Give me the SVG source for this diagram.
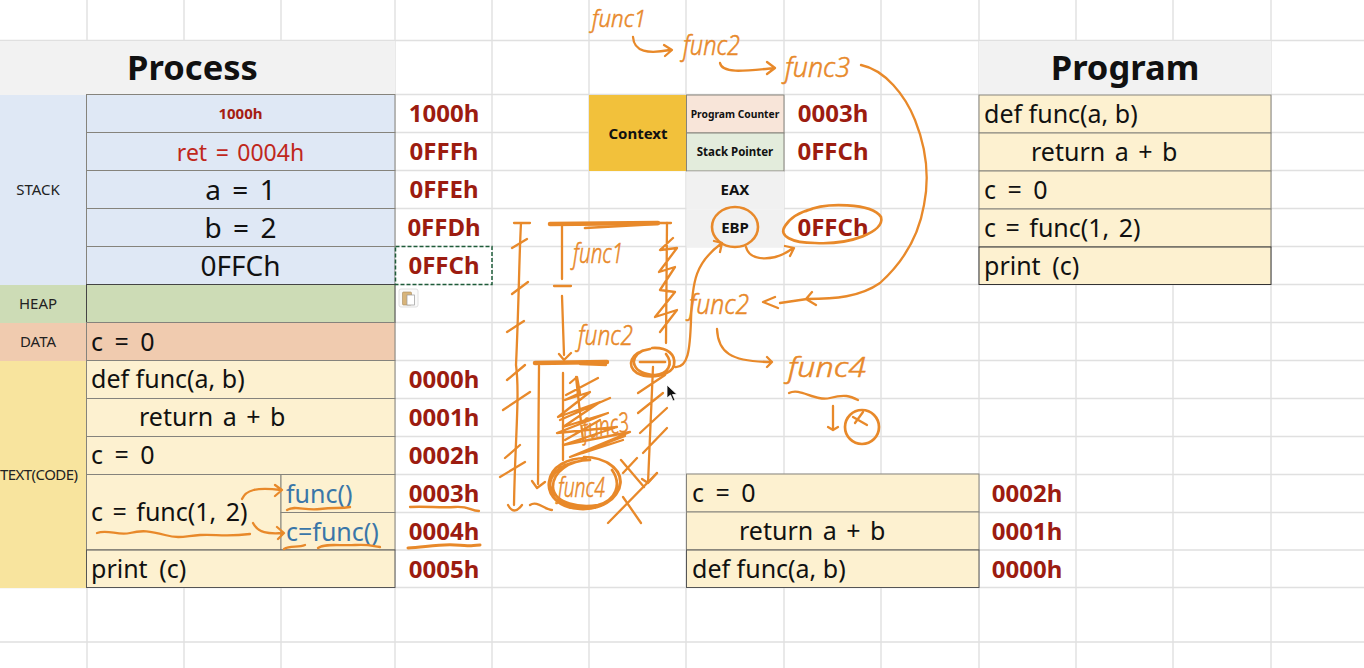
<svg xmlns="http://www.w3.org/2000/svg" width="1364" height="668" viewBox="0 0 1364 668">
<style>
text{font-family:"Noto Sans","Open Sans","Liberation Sans",sans-serif;fill:#111}
.grid{stroke:#e0e0e0;stroke-width:1.4;fill:none}
.cell{stroke:#85837c;stroke-width:1}
.title{font-size:34.500px;font-weight:700;text-anchor:middle}
.seg{font-size:15px;text-anchor:middle;fill:#222}
.code{font-size:25px;word-spacing:5px}
.w0{word-spacing:0}
.w3{word-spacing:3px}
.big{font-size:28px;text-anchor:middle;word-spacing:4px}
.addr{font-size:24px;font-weight:700;fill:#9c1c10;text-anchor:middle}
.small{font-size:11.500px;font-weight:700;text-anchor:middle}
.reg{font-size:15px;font-weight:700;text-anchor:middle}
.blue{font-size:25px;fill:#3a76a8}
.ink{fill:none;stroke:#e8892a;stroke-width:2.300;stroke-linecap:round;stroke-linejoin:round}
.thick{stroke-width:4.500}
.bold{stroke-width:2.700}
.hand{font-size:27px;font-style:italic;font-weight:300;fill:#e8892a;stroke:#e8892a;stroke-width:.5}
</style>
<rect width="1364" height="668" fill="#fff"/>
<path class="grid" d="M87 0V668M184 0V668M281 0V668M395 0V668M492 0V668M589 0V668M686 0V668M784 0V668M881 0V668M979 0V668M1076 0V668M1173 0V668M1271 0V668M0 40.500H1364M0 94.500H1364M0 132.500H1364M0 170.500H1364M0 208.500H1364M0 246.500H1364M0 284.500H1364M0 322.500H1364M0 360.500H1364M0 398.500H1364M0 436.500H1364M0 474.500H1364M0 512.500H1364M0 550H1364M0 587.500H1364M0 642H1364"/>

<g id="process-title"><rect x="0" y="41" width="395" height="54" fill="#f2f2f2"/><text class="title" x="192.500" y="80">Process</text></g>
<g id="seg-stack"><rect x="0" y="95" width="87" height="190" fill="#dfe8f5"/><text class="seg" x="38" y="195">STACK</text></g>
<g id="seg-heap"><rect x="0" y="285" width="87" height="38" fill="#cddcb6"/><text class="seg" x="38" y="309">HEAP</text></g>
<g id="seg-data"><rect x="0" y="323" width="87" height="38" fill="#f0cbaf"/><text class="seg" x="38" y="347">DATA</text></g>
<g id="seg-text"><rect x="0" y="361" width="87" height="227" fill="#f8e49e"/><text class="seg" x="39" y="480" textLength="78">TEXT(CODE)</text></g>

<g id="stack-rows">
<rect class="cell" x="86.500" y="94.500" width="308.500" height="38" fill="#dfe8f5"/><text x="240.500" y="119" text-anchor="middle" font-size="15" font-weight="700" style="fill:#a51d12">1000h</text>
<rect class="cell" x="86.500" y="132.500" width="308.500" height="38" fill="#dfe8f5"/><text x="240.500" y="161" text-anchor="middle" font-size="23" style="fill:#c0271c;word-spacing:2.500px">ret = 0004h</text>
<rect class="cell" x="86.500" y="170.500" width="308.500" height="38" fill="#dfe8f5"/><text class="big" x="240.500" y="200">a = 1</text>
<rect class="cell" x="86.500" y="208.500" width="308.500" height="38" fill="#dfe8f5"/><text class="big" x="240.500" y="238">b = 2</text>
<rect class="cell" x="86.500" y="246.500" width="308.500" height="38" fill="#dfe8f5"/><text class="big" x="240.500" y="276">0FFCh</text>
<rect class="cell" x="86.500" y="284.500" width="308.500" height="38" fill="#cddcb6" style="stroke:#444"/>
<rect class="cell" x="86.500" y="322.500" width="308.500" height="38" fill="#f0cbaf"/><text class="code" x="91" y="351">c = 0</text>
</g>
<g id="code-rows">
<rect class="cell" x="86.500" y="360.500" width="308.500" height="38" fill="#fdf1d0"/><text class="code w0" x="91" y="388">def func(a, b)</text>
<rect class="cell" x="86.500" y="398.500" width="308.500" height="38" fill="#fdf1d0"/><text class="code w3" x="139" y="426">return a + b</text>
<rect class="cell" x="86.500" y="436.500" width="308.500" height="38" fill="#fdf1d0"/><text class="code" x="91" y="464">c = 0</text>
<rect class="cell" x="86.500" y="474.500" width="194.500" height="75.500" fill="#fdf1d0"/><text class="code w3" x="91" y="521">c = func(1, 2)</text>
<rect class="cell" x="281" y="474.500" width="114" height="38" fill="#fdf1d0"/><text class="blue" x="286" y="503">func()</text>
<rect class="cell" x="281" y="512.500" width="114" height="37.500" fill="#fdf1d0"/><text class="blue" x="286" y="541">c=func()</text>
<rect class="cell" x="86.500" y="550" width="308.500" height="37.500" fill="#fdf1d0" style="stroke:#555"/><text class="code" x="91" y="578">print (c)</text>
</g>
<g id="addresses">
<text class="addr" x="444" y="122">1000h</text>
<text class="addr" x="444" y="160">0FFFh</text>
<text class="addr" x="444" y="198">0FFEh</text>
<text class="addr" x="444" y="236">0FFDh</text>
<rect x="395.500" y="246.500" width="96.500" height="38" fill="#fff" stroke="#1f5c3a" stroke-width="1.500" stroke-dasharray="4 2"/>
<text class="addr" x="444" y="274">0FFCh</text>
<text class="addr" x="444" y="388">0000h</text>
<text class="addr" x="444" y="426">0001h</text>
<text class="addr" x="444" y="464">0002h</text>
<text class="addr" x="444" y="502">0003h</text>
<text class="addr" x="444" y="540">0004h</text>
<text class="addr" x="444" y="578">0005h</text>
</g>
<g id="paste-icon">
<rect x="399" y="289" width="19" height="18" rx="2" fill="#fafafa" stroke="#e0e0e0"/>
<rect x="402.500" y="292" width="9" height="13" rx="1" fill="#d8b47a" stroke="#a88a5a" stroke-width=".6"/>
<rect x="407" y="295" width="7.500" height="10" fill="#fff" stroke="#999" stroke-width=".7"/>
</g>

<g id="context">
<rect x="589" y="95" width="97" height="76" fill="#f2c13b"/><text x="638" y="139" text-anchor="middle" font-size="15" font-weight="700">Context</text>
</g>
<g id="program-counter"><rect class="cell" x="686.500" y="95" width="97.500" height="38" fill="#f8e5d9"/><text class="small" x="735" y="118" style="font-size:10.300px">Program Counter</text><text class="addr" x="833" y="122">0003h</text></g>
<g id="stack-pointer"><rect class="cell" x="686.500" y="133" width="97.500" height="38" fill="#e3ecdc"/><text class="small" x="735" y="156">Stack Pointer</text><text class="addr" x="833" y="160">0FFCh</text></g>
<g id="eax"><rect x="686.500" y="171.500" width="97.500" height="38" fill="#f1f1f1"/><text class="reg" x="735" y="195">EAX</text></g>
<g id="ebp"><rect x="686.500" y="209.500" width="97.500" height="38" fill="#f1f1f1"/><text class="reg" x="735" y="233">EBP</text><text class="addr" x="833" y="236">0FFCh</text></g>

<g id="program-title"><rect x="979" y="41" width="292" height="54" fill="#f2f2f2"/><text class="title" x="1125" y="80">Program</text></g>
<g id="program-rows">
<rect class="cell" x="979" y="95" width="292" height="38" fill="#fdf1d0"/><text class="code w0" x="984" y="123">def func(a, b)</text>
<rect class="cell" x="979" y="133" width="292" height="38" fill="#fdf1d0"/><text class="code w3" x="1031" y="161">return a + b</text>
<rect class="cell" x="979" y="171" width="292" height="38" fill="#fdf1d0"/><text class="code" x="984" y="199">c = 0</text>
<rect class="cell" x="979" y="209" width="292" height="38" fill="#fdf1d0"/><text class="code w3" x="984" y="237">c = func(1, 2)</text>
<rect class="cell" x="979" y="247" width="292" height="37.500" fill="#fdf1d0" style="stroke:#333"/><text class="code" x="984" y="275">print (c)</text>
</g>
<g id="popped-rows">
<rect class="cell" x="686.500" y="474" width="292.500" height="38" fill="#fdf1d0"/><text class="code" x="692" y="502">c = 0</text><text class="addr" x="1027" y="502">0002h</text>
<rect class="cell" x="686.500" y="512" width="292.500" height="38" fill="#fdf1d0"/><text class="code w3" x="739" y="540">return a + b</text><text class="addr" x="1027" y="540">0001h</text>
<rect class="cell" x="686.500" y="550" width="292.500" height="37.500" fill="#fdf1d0" style="stroke:#555"/><text class="code w0" x="692" y="578">def func(a, b)</text><text class="addr" x="1027" y="578">0000h</text>
</g>

<g id="handwriting">
<text class="hand" x="592" y="27" textLength="54" lengthAdjust="spacingAndGlyphs" style="font-size:23px">func1</text>
<text class="hand" x="683" y="55" textLength="57" lengthAdjust="spacingAndGlyphs">func2</text>
<text class="hand" x="785" y="77" textLength="65" lengthAdjust="spacingAndGlyphs">func3</text>
<text class="hand" x="689" y="314" textLength="60" lengthAdjust="spacingAndGlyphs">func2</text>
<text class="hand" x="788" y="377" textLength="78" lengthAdjust="spacingAndGlyphs">func4</text>
<text class="hand" x="573" y="263" textLength="50" lengthAdjust="spacingAndGlyphs">func1</text>
<text class="hand" x="578" y="345" textLength="55" lengthAdjust="spacingAndGlyphs">func2</text>
<text class="hand" x="584" y="439" textLength="47" lengthAdjust="spacingAndGlyphs" transform="rotate(-10 584 439)">func3</text>
<text class="hand" x="558" y="497" textLength="47" lengthAdjust="spacingAndGlyphs">func4</text>
</g>
<g id="connectors">
<path class="ink" d="M242 499C246 490 256 487 281 490M275 485L282 490L275 496"/>
<path class="ink" d="M253 523C258 533 268 534 283 533M277 527L284 533L278 539"/>
<path class="ink" d="M97 533C108 529 118 536 130 533S150 531 165 535S185 536 200 535S225 537 250 534"/>
<path class="ink" d="M287 510C295 505 305 511 320 509S340 509 350 507"/>
<path class="ink" d="M284 549C290 545 298 548 305 545M318 548C325 543 340 546 355 545S372 546 380 547"/>
<path class="ink" d="M410 507C425 506 440 508 455 507S470 511 479 511"/>
<path class="ink" style="stroke-width:3" d="M408 548C425 547 440 544 455 545S470 546 480 545"/>
<path class="ink" d="M514 223H530M521 223C519 260 519 300 516 365C520 395 515 440 514 505M508 505Q514 516 522 505"/>
<path class="ink" d="M512 248L527 239M512 294L528 282M507 332L524 321M507 380L525 365M503 410L530 392M505 458L520 445M500 477L525 462M530 505C537 500 545 510 552 510"/>
<path class="ink thick" d="M550 224L658 223"/><path class="ink bold" d="M585 228L658 224"/>
<path class="ink" d="M660 223H671M562 226V279M554 286H571M562 296L564 355M559 354L564 360L571 353"/>
<path class="ink thick" d="M535 363L607 362"/><path class="ink" d="M580 364L606 365"/>
<path class="ink" d="M539 366L538 484M532 481L537 488L545 482M563 373L563 460"/>
<path class="ink" d="M667 223L666 343M673 238L660 250L677 248L659 272L675 267L660 290L675 292L655 317L677 310L660 332"/>
<path class="ink bold" d="M652 348C668 347 676 355 674 365C672 375 650 380 637 373C626 366 630 352 650 349M642 351C628 358 632 374 655 375C668 374 674 364 666 354"/>
<path class="ink bold" d="M640 362H665"/>
<path class="ink" d="M653 367L648 483M642 479L648 483L657 473M638 393L665 375M638 413L663 393M640 433L667 408M643 453L667 428"/>
<path class="ink" d="M675 367C688 368 690 350 691 320C692 280 696 262 722 243M714 241L722 243L720 252"/>
<path class="ink" d="M570 383L577 377L580 393L565 400L590 392L558 417L600 402L563 427L608 413L557 433L617 427L563 445L630 432L570 457L623 440L583 453M576 377L583 440M566 395L598 378M560 420L610 398M565 440L600 420M575 455L625 436"/>
<path class="ink" d="M621 460L644 487M637 458L623 473M657 473L608 523M623 497L641 523"/>
<path class="ink bold" d="M584 457C606 457 622 470 620 484C618 500 600 510 580 509C560 508 547 496 549 482C551 466 568 458 586 458M580 461C558 464 545 478 552 494C558 508 590 513 606 503C624 492 626 474 608 463M590 460C570 460 552 472 553 488C555 504 580 508 598 505C616 500 622 484 612 470"/>
<path class="ink" d="M633 37C634 52 648 54 670 50M664 45L672 50L665 56"/>
<path class="ink" d="M720 63C722 74 745 71 775 68M767 62L775 68L767 74"/>
<path class="ink" d="M861 65C885 70 905 95 915 120C925 145 930 175 924 205C918 240 900 265 880 283C860 297 835 299 807 299M812 292L806 299L816 305M807 299L780 303M775 297L763 302L778 308"/>
<ellipse class="ink" style="stroke-width:2.600" cx="735" cy="227" rx="23" ry="20"/>
<path class="ink bold" d="M806 211C825 202 872 203 881 217C885 232 850 245 815 243C792 243 778 236 785 226C790 218 800 212 812 209"/>
<path class="ink" d="M746 247C750 262 775 262 793 248M785 246L794 248L790 256"/>
<path class="ink" d="M717 329C718 352 730 362 772 362M767 357L772 362L767 367"/>
<path class="ink" d="M789 393C800 387 815 402 830 398S850 396 858 400"/>
<path class="ink" d="M833 406V429M828 427L833 430L838 427"/>
<circle class="ink bold" cx="862" cy="427" r="17"/>
<path class="ink" d="M853 417L867 425M863 412L855 423"/>
</g>
<path id="cursor" d="M667 385V398L670.500 395L673 401L675 400L672.500 394.500H677Z" fill="#111" stroke="#fff" stroke-width=".8"/>
</svg>
